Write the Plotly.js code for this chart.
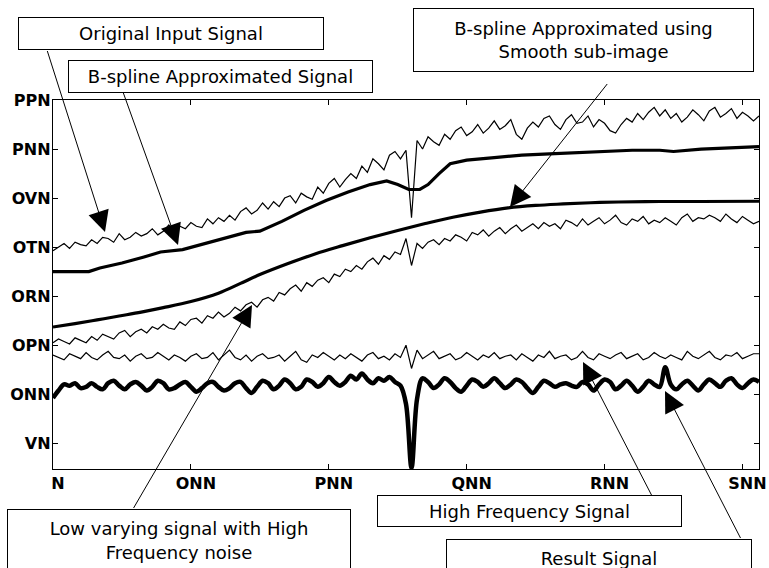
<!DOCTYPE html>
<html><head><meta charset="utf-8">
<script src="https://cdn.plot.ly/plotly-3.0.1.min.js"></script>
<style>html,body{margin:0;padding:0;background:#fff}#chart{width:769px;height:568px}</style>
</head><body><div id="chart"></div>
<script>
// ---- tick labels ----
const xTickVals = [0, 100, 200, 300, 400, 500];
const xTickText = ['N', 'ONN', 'PNN', 'QNN', 'RNN', 'SNN'];
const yTickVals = [80, 100, 120, 140, 160, 180, 200, 220];
const yTickText = ['VN', 'ONN', 'OPN', 'ORN', 'OTN', 'OVN', 'PNN', 'PPN'];

// ---- sampled signals (one value every 4 samples, 0..512) ----
const sampleStart = 0, sampleStep = 4;
const originalInput = [
  158.5,160,161.5,159.5,162,161,160.5,163,
  161.5,164,163.5,162,165.5,163,164,166,
  164.5,165.5,167.5,165,166.5,169,166,168.5,
  167.5,170,168.5,168,171.5,169.5,172,170.5,
  173,171,174.5,176,173.5,175,178,175.5,
  178.5,176.5,180,181,178,182,180.5,179.5,
  184.5,182,186,188,184.5,187.5,190,188,
  193,190.5,196,194,191.5,197.5,199,196,
  199.5,172,203.5,200,205,203,201.5,206,
  204,207.5,209,205.5,207,210,206.5,208.5,
  211.5,208,209.5,212,206,204,208.5,211,
  209,212.5,213.5,210,208,212,214,210.5,
  211,213.5,209,212,210.5,207.5,206.5,210,
  212.5,211,214.5,212,215,217,213.5,216,
  212.5,214.5,211,213,216,214,211.5,215.5,
  217,213,214.5,216.5,212.5,215,213.5,211.5,
  213.5
];
const lowVarying = [
  121,122.5,121.5,120.5,123,122,121,123.5,
  122,124.5,123.5,122.5,125,126,123.5,125.5,
  126.5,125,127.5,126.5,128.5,127,126.5,129.5,
  128,130.5,131,129,132,131,133.5,131.5,
  133,135.5,134,136.5,137.5,135.5,138.5,139.5,
  138,141.5,140.5,143,144.5,142,145.5,144,
  146.5,147.5,145.5,149,148,151,150,152.5,
  151,154,155.5,153,156.5,155,158,157,
  163.5,152.5,161.5,159.5,162,163,161,163.5,
  162.5,165,164,162.5,166,165,167,164.5,
  166.5,168,165.5,167.5,169,166.5,168,169.5,
  167.5,170,168.5,169.5,167.5,171,170,168.5,
  171.5,169,170.5,172,169.5,171,173,170,
  169,171.5,170.5,172.5,169.5,171,170,172,
  170.5,169,172,173.5,170.5,172,171.5,173,
  172,170.5,173.5,171.5,170,172.5,171,169.5,
  170.5
];
const highFrequency = [
  116,115,114,116.5,115.5,114.5,117,115,
  114,116,117.5,115,114.5,116,113.5,115.5,
  116.5,114.5,115,117,115.5,114,116,115,
  113.5,115.5,116.5,114.5,115,117,114,116,
  118,115,114,116,113.5,115.5,116.5,114.5,
  115,116,113.5,115.5,117.5,114,113,116,
  115,117,115.5,114,116,114.5,116.5,115,
  113.5,116,117,114.5,115.5,114,116.5,115,
  120,110.5,118,114.5,116,117.5,114.5,115.5,
  116.5,114,115,117,115.5,114,116,115,
  117,114.5,115.5,116,114,116.5,115,113.5,
  116,115,117.5,114.5,115.5,116,114,115,
  117.5,115,114,116.5,115.5,114.5,116,117,
  114.5,115.5,116.5,114,115,117,115.5,114.5,
  116,115,114,117.5,115.5,114.5,116,117.5,
  115,114,116,115.5,117,114.5,115.5,116.5,
  116.5
];
const resultSignal = [
  98.5,101.5,104,103.5,104.5,102.5,103,104.5,
  103,102,104.5,105.5,103.5,102,104,105,
  103.5,101.5,103,105.5,104.5,102,102.5,104,
  105,103,101,102.5,104.5,105,103,101.5,
  102.5,104.5,105,102.5,100.5,103,105.5,104.5,
  102,103.5,106,104.5,102,103,106,105,
  103,104.5,107,105,103.5,105,107.5,106,
  108.5,106,104.5,106.5,105.5,107,105,103.5,
  96,70,98,106.5,105,102.5,104,106.5,
  105,102.5,101,103.5,106,105,103,104.5,
  106.5,104.5,102.5,104,106,105,102.5,100.5,
  103,105.5,104.5,103,104,104.5,103.5,103,
  105,104,101.5,104,106,105,102,103.5,
  105.5,103.5,101,103,105.5,104,103,111,
  104,102,104,105.5,103.5,101.5,104,106,
  104.5,103,105.5,106.5,104,102.5,104.5,106,
  105
];

// ---- smooth approximations ----
const bsplineX = [0,26,34,50,66,78,94,110,126,140,150,166,182,198,214,230,242,250,258,266,272,280,288,300,320,340,360,380,400,420,440,450,470,490,512];
const bsplineY = [150,150,151.5,153.5,156,158,159,161.5,164,166,166.5,170.5,175,179,182.5,185.5,187,185.5,183.5,183.5,185.5,190,194,195.5,196.5,197.5,198,198.5,199,199.5,199.5,199,200,200.5,201];
const smoothX = [0,16,32,48,64,80,100,120,136,150,170,190,210,230,250,270,290,310,330,350,370,390,410,440,470,512];
const smoothY = [127.4,128.8,130.3,131.9,133.5,135.3,137.8,141.2,145.2,148.8,153.2,157.2,160.6,163.8,166.8,169.6,172.2,174.3,176,177,177.6,178.1,178.4,178.6,178.6,178.7];

const black = '#000';
function sampled(y, w, shape) {
  return {type:'scatter', mode:'lines', y:y, x0:sampleStart, dx:sampleStep,
          line:{color:black, width:w, shape:shape || 'linear'}, hoverinfo:'skip', showlegend:false};
}
const traces = [
  sampled(originalInput, 1.2),
  {type:'scatter', mode:'lines', x:bsplineX, y:bsplineY, line:{color:black, width:3.2}, showlegend:false},
  {type:'scatter', mode:'lines', x:smoothX, y:smoothY, line:{color:black, width:3.2, shape:'spline'}, showlegend:false},
  sampled(lowVarying, 1.2),
  sampled(highFrequency, 1.2),
  sampled(resultSignal, 4.5, 'spline')
];

// ---- layout helpers (pixel -> paper) ----
const L = 53, T = 100, W = 706, H = 369;
const pX = x => (x - L) / W, pY = y => (T + H - y) / H;
const textFont = {family:'DejaVu Sans', size:18, color:black};
function box(text, x0, y0, x1, y1) {
  return {xref:'paper', yref:'paper', x:pX((x0+x1)/2), y:pY((y0+y1)/2),
          xanchor:'center', yanchor:'middle', text:text, showarrow:false,
          width:x1-x0-3, height:y1-y0-3, bordercolor:black, borderwidth:1,
          borderpad:1, bgcolor:'#fff', font:textFont};
}
function arrow(tx, ty, sx, sy) {
  return {xref:'paper', yref:'paper', x:pX(tx), y:pY(ty), ax:sx-tx, ay:sy-ty,
          text:' ', font:{size:1}, width:1, height:1, borderpad:0,
          showarrow:true, arrowhead:2, arrowsize:4.2, arrowwidth:1, arrowcolor:black};
}

const axisFont = {family:'DejaVu Sans', size:16, weight:'bold', color:black};
const layout = {
  width:769, height:568,
  margin:{l:L, r:769-L-W, t:T, b:568-T-H},
  paper_bgcolor:'#fff', plot_bgcolor:'#fff',
  showlegend:false,
  xaxis:{range:[0,512], tickvals:xTickVals, ticktext:xTickText, ticks:'inside', ticklen:5,
         tickcolor:black, showline:true, linecolor:black, linewidth:1.2, mirror:'ticks',
         showgrid:false, zeroline:false, ticklabelshift:5, ticklabeloverflow:'allow',
         tickfont:axisFont},
  yaxis:{range:[69.5,220], tickvals:yTickVals, ticktext:yTickText, ticks:'inside', ticklen:5,
         tickcolor:black, showline:true, linecolor:black, linewidth:1.2, mirror:'ticks',
         showgrid:false, zeroline:false, ticklabelstandoff:-2, ticklabeloverflow:'allow',
         tickfont:axisFont},
  annotations:[
    arrow(105, 232, 47, 50),
    arrow(178, 245, 123, 92),
    arrow(510, 207, 608, 83),
    arrow(252, 305, 133, 509),
    arrow(583, 362, 652, 496),
    arrow(665, 391, 741, 539),
    box('Original Input Signal', 18, 18, 323, 50),
    box('B-spline Approximated Signal', 68, 60, 372, 92),
    box('B-spline Approximated using<br>Smooth sub-image', 413, 9, 753, 72),
    box('High Frequency Signal', 377, 496, 681, 527),
    box('Low varying signal with High<br>Frequency noise', 7, 509, 350, 571),
    box('Result Signal', 446, 539, 751, 577)
  ]
};
Plotly.newPlot('chart', traces, layout, {displayModeBar:false, staticPlot:true});
</script></body></html>
